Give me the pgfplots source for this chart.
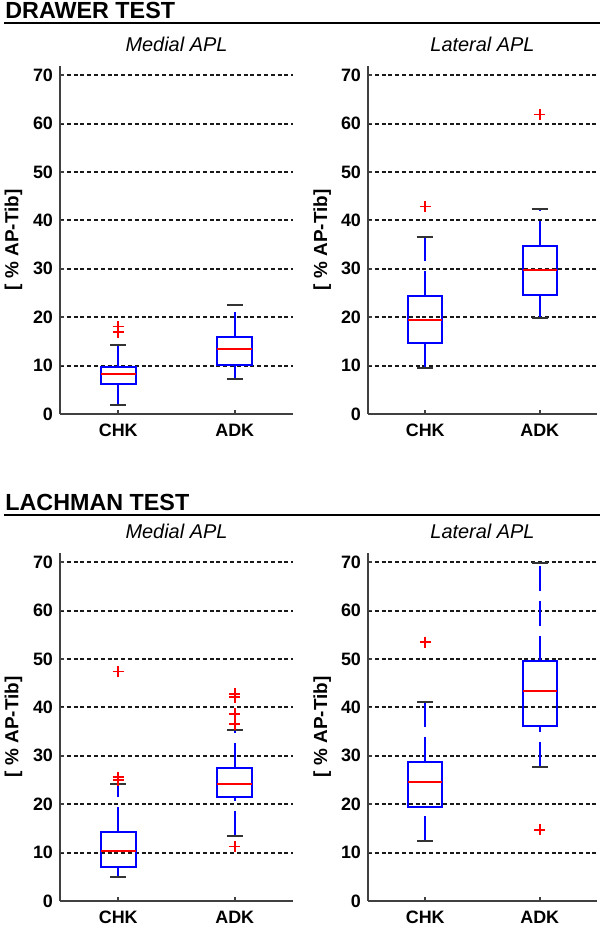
\documentclass[border=0pt]{standalone}
\usepackage{fontspec}
\setmainfont{Liberation Sans}
\usepackage{pgfplots}
\pgfplotsset{compat=1.18}
\usepgfplotslibrary{statistics}

% MATLAB-like box plot: blue box, red median, dashed blue whiskers, black caps
\pgfplotsset{
  boxplot/draw/median/.code={
    \draw[red, line width=1.1bp, solid]
      (boxplot box cs:\pgfplotsboxplotvalue{median},0) --
      (boxplot box cs:\pgfplotsboxplotvalue{median},1);},
  boxplot/draw/lower whisker/.code={
    \draw[blue, line width=1bp, dash pattern=on 12.5bp off 5bp]
      (boxplot box cs:\pgfplotsboxplotvalue{lower whisker},0.5) --
      (boxplot box cs:\pgfplotsboxplotvalue{lower quartile},0.5);
    \draw[black!80, line width=1bp, solid]
      (boxplot whisker cs:\pgfplotsboxplotvalue{lower whisker},0) --
      (boxplot whisker cs:\pgfplotsboxplotvalue{lower whisker},1);},
  boxplot/draw/upper whisker/.code={
    \draw[blue, line width=1bp, dash pattern=on 12.5bp off 5bp]
      (boxplot box cs:\pgfplotsboxplotvalue{upper quartile},0.5) --
      (boxplot box cs:\pgfplotsboxplotvalue{upper whisker},0.5);
    \draw[black!80, line width=1bp, solid]
      (boxplot whisker cs:\pgfplotsboxplotvalue{upper whisker},0) --
      (boxplot whisker cs:\pgfplotsboxplotvalue{upper whisker},1);},
  apl/.style={
    scale only axis, height=174.2bp,
    xmin=0.5, xmax=2.5, ymin=0, ymax=72,
    axis x line*=bottom, axis y line*=left,
    axis line style={line width=1bp, black!75},
    xtick={1,2}, xticklabels={CHK,ADK},
    ytick={0,10,...,70},
    tick align=inside, major tick length=2bp,
    tick style={line width=0.8bp, black!75},
    ymajorgrids,
    grid style={line width=1bp, black!90, dash pattern=on 2bp off 1.4bp},
    /pgf/number format/assume math mode=true,
    ticklabel style={font=\bfseries\fontsize{9}{10}\selectfont},
    xticklabel style={yshift=-1.5bp},
    ylabel={[ \% AP-Tib]},
    ylabel style={at={(axis description cs:-0.2,0.5)}, anchor=center,
      font=\bfseries\fontsize{9.5}{11}\selectfont},
    every axis title/.style={at={(axis description cs:0.5,1)}, anchor=center,
      yshift=10.8bp, font=\itshape\fontsize{10}{12}\selectfont},
    boxplot/draw direction=y,
  },
  bx/.style={blue, line width=1bp, solid, mark=+, mark size=2.8bp,
    mark options={red, line width=0.8bp, solid}},
}

\begin{document}
\begin{tikzpicture}
\useasboundingbox (0,0) rectangle (300bp,463.5bp);

% section headers
\node[anchor=base west, inner sep=0, font=\bfseries\fontsize{11.7}{13}\selectfont]
  at (2.5bp,454.3bp) {DRAWER TEST};
\draw[line width=1bp] (2bp,451.8bp) -- (300bp,451.8bp);
\node[anchor=base west, inner sep=0, font=\bfseries\fontsize{11.7}{13}\selectfont]
  at (2.5bp,208.1bp) {LACHMAN TEST};
\draw[line width=1bp] (2bp,205.8bp) -- (300bp,205.8bp);

% ---- DRAWER TEST, medial
\begin{axis}[apl, at={(30bp,256.5bp)}, anchor=south west, width=116.5bp,
  title={Medial APL}]
\addplot[bx, boxplot prepared={draw position=1, lower whisker=1.8,
  lower quartile=6.1, median=8.2, upper quartile=9.7, upper whisker=14.3,
  box extend=0.3, whisker extend=0.14}]
  table[row sep=\\, y index=0] {v\\18.1\\16.9\\};
\addplot[bx, boxplot prepared={draw position=2, lower whisker=7.3,
  lower quartile=10.1, median=13.4, upper quartile=16.0, upper whisker=22.5,
  box extend=0.3, whisker extend=0.14}]
  coordinates {};
\end{axis}

% ---- DRAWER TEST, lateral
\begin{axis}[apl, at={(184bp,256.5bp)}, anchor=south west, width=114.5bp,
  title={Lateral APL}]
\addplot[bx, boxplot prepared={draw position=1, lower whisker=9.5,
  lower quartile=14.6, median=19.4, upper quartile=24.3, upper whisker=36.6,
  box extend=0.3, whisker extend=0.14}]
  table[row sep=\\, y index=0] {v\\42.9\\};
\addplot[bx, boxplot prepared={draw position=2, lower whisker=19.8,
  lower quartile=24.6, median=29.7, upper quartile=34.8, upper whisker=42.4,
  box extend=0.3, whisker extend=0.14}]
  table[row sep=\\, y index=0] {v\\61.9\\};
\end{axis}

% ---- LACHMAN TEST, medial
\begin{axis}[apl, at={(30bp,13bp)}, anchor=south west, width=116.5bp,
  title={Medial APL}]
\addplot[bx, boxplot prepared={draw position=1, lower whisker=4.9,
  lower quartile=7.1, median=10.4, upper quartile=14.2, upper whisker=24.2,
  box extend=0.3, whisker extend=0.14}]
  table[row sep=\\, y index=0] {v\\47.4\\25.6\\25.0\\};
\addplot[bx, boxplot prepared={draw position=2, lower whisker=13.4,
  lower quartile=21.5, median=24.2, upper quartile=27.4, upper whisker=35.3,
  box extend=0.3, whisker extend=0.14}]
  table[row sep=\\, y index=0] {v\\42.8\\42.1\\38.7\\36.6\\11.3\\};
\end{axis}

% ---- LACHMAN TEST, lateral
\begin{axis}[apl, at={(184bp,13bp)}, anchor=south west, width=114.5bp,
  title={Lateral APL}]
\addplot[bx, boxplot prepared={draw position=1, lower whisker=12.4,
  lower quartile=19.4, median=24.6, upper quartile=28.8, upper whisker=41.1,
  box extend=0.3, whisker extend=0.14}]
  table[row sep=\\, y index=0] {v\\53.5\\};
\addplot[bx, boxplot prepared={draw position=2, lower whisker=27.7,
  lower quartile=36.1, median=43.4, upper quartile=49.6, upper whisker=69.8,
  box extend=0.3, whisker extend=0.14}]
  table[row sep=\\, y index=0] {v\\14.7\\};
\end{axis}
\end{tikzpicture}
\end{document}
